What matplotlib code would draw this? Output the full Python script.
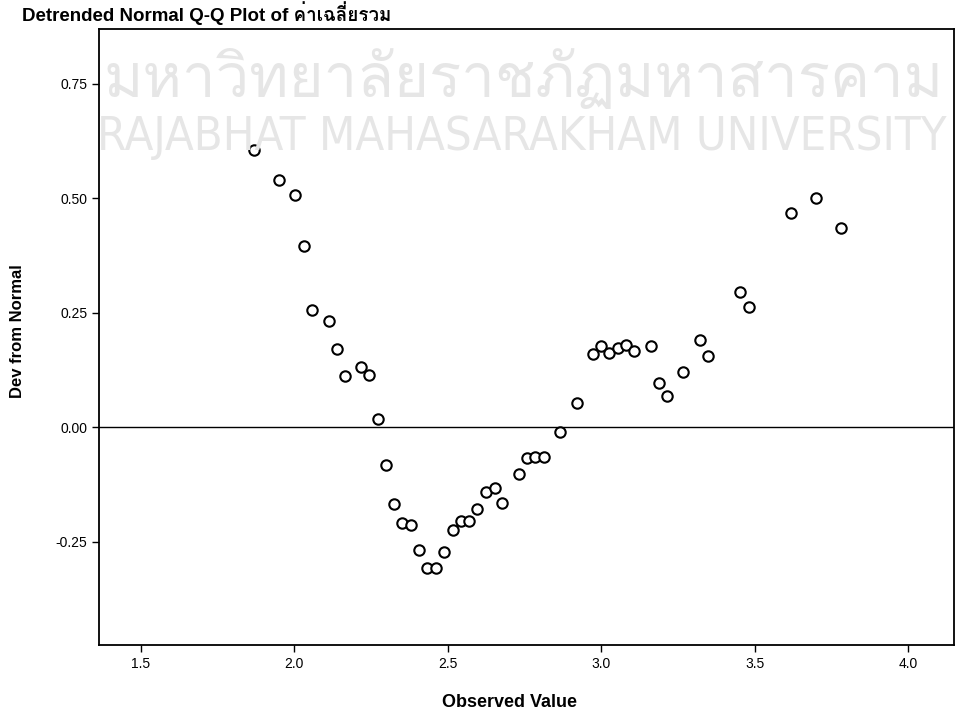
import matplotlib
matplotlib.use('Agg')
import matplotlib.pyplot as plt
from matplotlib import font_manager
from matplotlib.ft2font import FT2Font

# detrended normal Q-Q values
observed = [1.868, 1.949, 2.003, 2.031, 2.058, 2.112, 2.140, 2.165, 2.217, 2.244,
            2.272, 2.298, 2.325, 2.352, 2.380, 2.406, 2.434, 2.463, 2.489, 2.516,
            2.543, 2.570, 2.597, 2.624, 2.653, 2.678, 2.732, 2.759, 2.786, 2.813,
            2.866, 2.920, 2.972, 3.000, 3.026, 3.054, 3.081, 3.106, 3.161, 3.189,
            3.215, 3.266, 3.321, 3.349, 3.454, 3.483, 3.617, 3.699, 3.781]
dev_from_normal = [0.606, 0.541, 0.507, 0.396, 0.256, 0.233, 0.172, 0.113, 0.132, 0.114,
                   0.018, -0.083, -0.167, -0.208, -0.213, -0.267, -0.308, -0.308, -0.271, -0.223,
                   -0.204, -0.205, -0.177, -0.140, -0.132, -0.164, -0.102, -0.066, -0.064, -0.064,
                   -0.010, 0.053, 0.160, 0.177, 0.163, 0.173, 0.181, 0.166, 0.177, 0.098,
                   0.069, 0.120, 0.192, 0.155, 0.296, 0.262, 0.468, 0.501, 0.436]

x_ticks = [1.5, 2.0, 2.5, 3.0, 3.5, 4.0]
y_ticks = [-0.25, 0.00, 0.25, 0.50, 0.75]

title = "Detrended Normal Q-Q Plot of ค่าเฉลี่ยรวม"
watermark_th = "มหาวิทยาลัยราชภัฏมหาสารคาม"
watermark_en = "RAJABHAT MAHASARAKHAM UNIVERSITY"


def find_thai_font():
    # first installed font that has thai glyphs
    for path in sorted(font_manager.findSystemFonts()):
        try:
            if 0x0E04 in FT2Font(path).get_charmap():
                return font_manager.FontProperties(fname=path).get_name()
        except Exception:
            continue
    return 'DejaVu Sans'


def fit_width(fig, txt, width_px):
    # shrink/grow a text so it spans width_px
    r = fig.canvas.get_renderer()
    w = txt.get_window_extent(r).width
    txt.set_fontsize(txt.get_fontsize() * width_px / w)


def main():
    thai = find_thai_font()
    fams = ['Liberation Sans', thai, 'DejaVu Sans']

    fig = plt.figure(figsize=(9.57, 7.18), dpi=100)
    fig.patch.set_facecolor('white')

    # faint watermark behind the plot
    t1 = fig.text(0.108, 1 - 97 / 718, watermark_th, family=[thai, 'DejaVu Sans'],
                  fontsize=40, color='#e6e6e6', va='baseline', zorder=0)
    t2 = fig.text(0.101, 1 - 150 / 718, watermark_en, fontsize=30, color='#e6e6e6',
                  va='baseline', zorder=0,
                  fontproperties=font_manager.FontProperties(
                      family='DejaVu Sans', stretch='condensed', size=30))
    fit_width(fig, t1, 840)
    fit_width(fig, t2, 850)

    ax = fig.add_axes([0.1034, 0.1017, 0.8936, 0.8579])
    ax.patch.set_alpha(0)

    ax.axhline(0, color='black', lw=1.0, zorder=2)
    ax.plot(observed, dev_from_normal, 'o', mfc='white', mec='black',
            ms=7.5, mew=1.5, zorder=3)

    ax.set_xlim(1.364, 4.15)
    ax.set_ylim(-0.475, 0.87)
    ax.set_xticks(x_ticks)
    ax.set_xticklabels(['%.1f' % v for v in x_ticks])
    ax.set_yticks(y_ticks)
    ax.set_yticklabels(['%.2f' % v for v in y_ticks])
    ax.tick_params(direction='out', length=5, width=1, labelsize=10,
                   top=False, right=False)
    for lab in ax.get_xticklabels() + ax.get_yticklabels():
        lab.set_family(fams)
    for sp in ax.spines.values():
        sp.set_linewidth(1.3)

    ax.set_xlabel('Observed Value', family=fams, fontsize=13, fontweight='bold')
    ax.set_ylabel('Dev from Normal', family=fams, fontsize=12, fontweight='bold')
    ax.xaxis.set_label_coords(0.48, -0.08)
    ax.yaxis.set_label_coords(-0.087, 0.51)

    fig.text(0.023, 0.999, title, family=fams, fontsize=13.5, fontweight='bold',
             va='top', ha='left')

    fig.savefig('out.png', dpi=100)


if __name__ == "__main__":
    main()
